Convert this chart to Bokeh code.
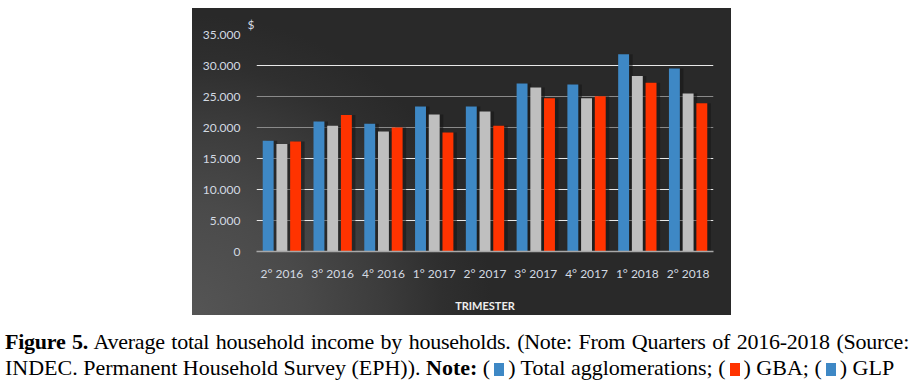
from bokeh.plotting import figure
from bokeh.models import (ColumnDataSource, FactorRange, Range1d, Grid, FixedTicker,
                          Div, Spacer)
from bokeh.layouts import column, row
from bokeh.transform import dodge
from bokeh.embed import file_html
from bokeh.resources import INLINE

quarters = ["2° 2016", "3° 2016", "4° 2016", "1° 2017", "2° 2017",
            "3° 2017", "4° 2017", "1° 2018", "2° 2018"]
total_agglomerations = [17850, 20950, 20600, 23400, 23400, 27100, 26950, 31800, 29500]
glp = [17350, 20300, 19350, 22100, 22600, 26450, 24700, 28300, 25500]
gba = [17750, 22000, 20000, 19200, 20300, 24700, 25050, 27200, 23900]

y_ticks = [0, 5000, 10000, 15000, 20000, 25000, 30000, 35000]
y_tick_labels = ["0", "5.000", "10.000", "15.000", "20.000", "25.000", "30.000", "35.000"]
white_grid = [5000, 10000, 15000, 30000]
grey_grid = [20000, 25000, 35000]

BLUE = "#3e88c5"
GREY = "#bfbfbf"
RED = "#ff3300"
LABEL = "#d3dae2"

src = ColumnDataSource(dict(q=quarters, total=total_agglomerations, glp=glp, gba=gba))

p = figure(width=539, height=307, x_range=FactorRange(*quarters), y_range=Range1d(0, 35000),
           output_backend="svg", toolbar_location=None,
           min_border_left=64, min_border_right=18, min_border_top=26, min_border_bottom=64)
p.background_fill_alpha = 0
p.border_fill_alpha = 0
p.outline_line_color = None
p.styles = {"background": "radial-gradient(circle at 0% 100%, #555555 0px, #4a4a4a 110px, "
                          "#3c3c3c 190px, #2f2f2f 250px, #292929 300px)"}
p.x_range.range_padding = 0

# "$" marker above the value axis
p.title.text = "$"
p.title.align = "left"
p.title.offset = -9
p.title.standoff = 5
p.title.text_font = "Lato"
p.title.text_font_style = "normal"
p.title.text_font_size = "12px"
p.title.text_color = LABEL

# grid
p.xgrid.visible = False
p.ygrid.visible = False
p.add_layout(Grid(dimension=1, ticker=FixedTicker(ticks=grey_grid),
                  grid_line_color="#8a8a8a", grid_line_width=1.2))
p.add_layout(Grid(dimension=1, ticker=FixedTicker(ticks=white_grid),
                  grid_line_color="#e8e8e8", grid_line_width=1.2))

W = 0.215
off = 0.27
sh = 0.07
for col, o in (("total", -off), ("glp", 0.0), ("gba", off)):
    p.vbar(x=dodge("q", o + sh, range=p.x_range), top=col, width=W, source=src,
           fill_color="#161616", fill_alpha=0.55, line_color=None)
p.vbar(x=dodge("q", -off, range=p.x_range), top="total", width=W, source=src,
       fill_color=BLUE, line_color=None)
p.vbar(x=dodge("q", 0.0, range=p.x_range), top="glp", width=W, source=src,
       fill_color=GREY, line_color=None)
p.vbar(x=dodge("q", off, range=p.x_range), top="gba", width=W, source=src,
       fill_color=RED, line_color=None)

# axes
p.yaxis.ticker = FixedTicker(ticks=y_ticks)
p.yaxis.major_label_overrides = dict(zip(y_ticks, y_tick_labels))
p.yaxis.axis_line_color = None
p.yaxis.major_tick_line_color = None
p.yaxis.minor_tick_line_color = None
p.yaxis.major_label_standoff = 10
p.yaxis.major_label_text_font = "Lato"
p.yaxis.major_label_text_font_size = "12px"
p.yaxis.major_label_text_color = LABEL

p.xaxis.axis_line_color = "#a8a8a8"
p.xaxis.axis_line_width = 1.3
p.xaxis.major_tick_line_color = None
p.xaxis.major_label_standoff = 8
p.xaxis.major_label_text_font = "Lato"
p.xaxis.major_label_text_font_size = "12px"
p.xaxis.major_label_text_color = LABEL
p.xaxis.axis_label = "TRIMESTER"
p.xaxis.axis_label_text_font = "Lato"
p.xaxis.axis_label_text_font_style = "bold"
p.xaxis.axis_label_text_font_size = "11px"
p.xaxis.axis_label_text_color = "#eeeeee"
p.xaxis.axis_label_standoff = 15

sq = ('<span style="display:inline-block;width:10px;height:13px;background:{};'
      'vertical-align:-1px;margin:0 4px"></span>')
caption = Div(
    width=904, height=60,
    text=('<div style="font-family:\'Liberation Serif\';font-size:22px;line-height:26px;color:#000;'
          'width:904px">'
          '<div style="text-align:justify;text-align-last:justify;white-space:nowrap;'
          'letter-spacing:-0.25px">'
          '<b>Figure 5.</b> Average total household income by households. (Note: From Quarters of '
          '2016-2018 (Source:</div>'
          '<div style="white-space:nowrap">INDEC. Permanent Household Survey (EPH)). <b>Note:</b> ('
          + sq.format(BLUE) + ') Total agglomerations; (' + sq.format(RED) + ') GBA; ('
          + sq.format(BLUE) + ') GLP</div></div>'),
    styles={"margin-top": "14px"})

layout = column(Spacer(width=10, height=8),
                row(Spacer(width=192, height=307), p),
                caption)
open("out.html", "w").write(file_html(layout, INLINE))
